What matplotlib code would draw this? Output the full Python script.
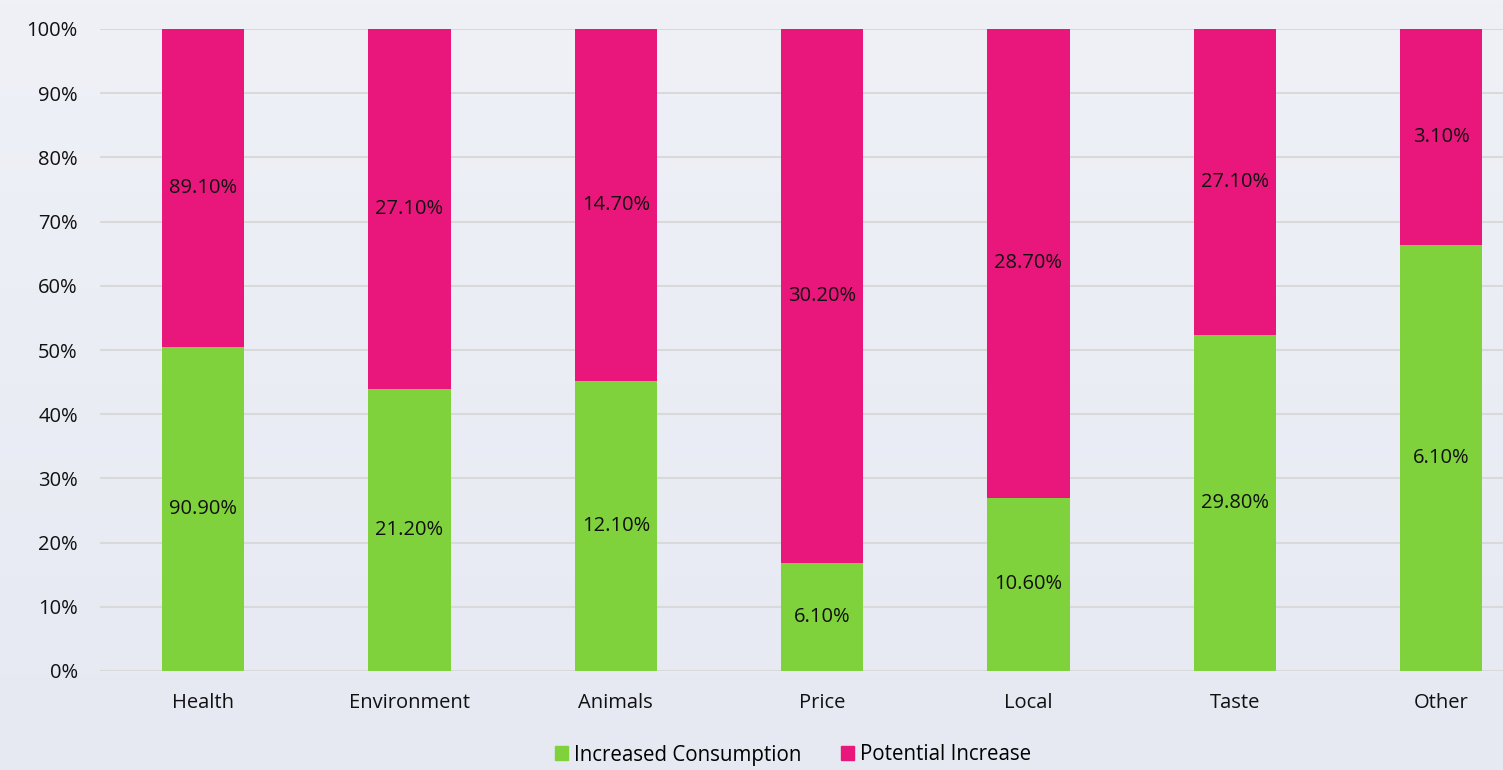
import numpy as np
import matplotlib
matplotlib.use("Agg")
import matplotlib.pyplot as plt
from matplotlib.patches import Patch
from matplotlib.colors import LinearSegmentedColormap

categories = ["Health", "Environment", "Animals", "Price", "Local", "Taste", "Other"]
increased = [90.9, 21.2, 12.1, 6.1, 10.6, 29.8, 6.1]
potential = [89.1, 27.1, 14.7, 30.2, 28.7, 27.1, 3.1]
series_names = ["Increased Consumption", "Potential Increase"]

green = "#7fd23c"
pink = "#e9177b"
fs = 14.5

plt.rcParams['font.family'] = ['Open Sans', 'DejaVu Sans']

fig = plt.figure(figsize=(15.03, 7.70), dpi=100)

# background gradient
bg = fig.add_axes([0, 0, 1, 1], zorder=0)
grad = np.linspace(0, 1, 256).reshape(-1, 1)
cmap = LinearSegmentedColormap.from_list("bg", ["#eff1f7", "#e6e9f2"])
bg.imshow(grad, aspect="auto", cmap=cmap, extent=[0, 1, 0, 1])
bg.axis("off")

ax = fig.add_axes([100 / 1503, 99 / 770, 1403 / 1503, 642 / 770], zorder=1)
ax.patch.set_alpha(0)

inc = np.array(increased)
pot = np.array(potential)
tot = inc + pot
inc_share = inc / tot * 100
pot_share = pot / tot * 100
x = np.arange(len(categories))
w = 0.40

ax.bar(x, inc_share, w, color=green, zorder=2)
ax.bar(x, pot_share, w, bottom=inc_share, color=pink, zorder=2)

for i in range(len(categories)):
    ax.text(x[i], inc_share[i] / 2, f"{increased[i]:.2f}%", ha="center", va="center",
            fontsize=fs, color="#111111", zorder=3)
    ax.text(x[i], inc_share[i] + pot_share[i] / 2, f"{potential[i]:.2f}%", ha="center",
            va="center", fontsize=fs, color="#111111", zorder=3)

ax.set_xlim(-0.5, 6.30)
ax.set_ylim(0, 100)
ax.set_yticks(np.arange(0, 101, 10))
ax.set_yticklabels([f"{v}%" for v in range(0, 101, 10)])
ax.set_xticks(x)
ax.set_xticklabels(categories)
ax.tick_params(axis="both", length=0, labelsize=fs, colors="#111111")
ax.tick_params(axis="x", pad=16)
ax.tick_params(axis="y", pad=16)
ax.yaxis.grid(True, color="#d9d9d9", linewidth=1.5, zorder=1)
ax.set_axisbelow(True)
for s in ax.spines.values():
    s.set_visible(False)

handles = [Patch(color=green, label=series_names[0]), Patch(color=pink, label=series_names[1])]
fig.legend(handles=handles, loc="center", bbox_to_anchor=(793 / 1503, 1 - 755 / 770),
           ncol=2, frameon=False, fontsize=14.8, handlelength=0.65, handleheight=0.65,
           handletextpad=0.3, columnspacing=1.9)

fig.savefig("out.png", dpi=100)
